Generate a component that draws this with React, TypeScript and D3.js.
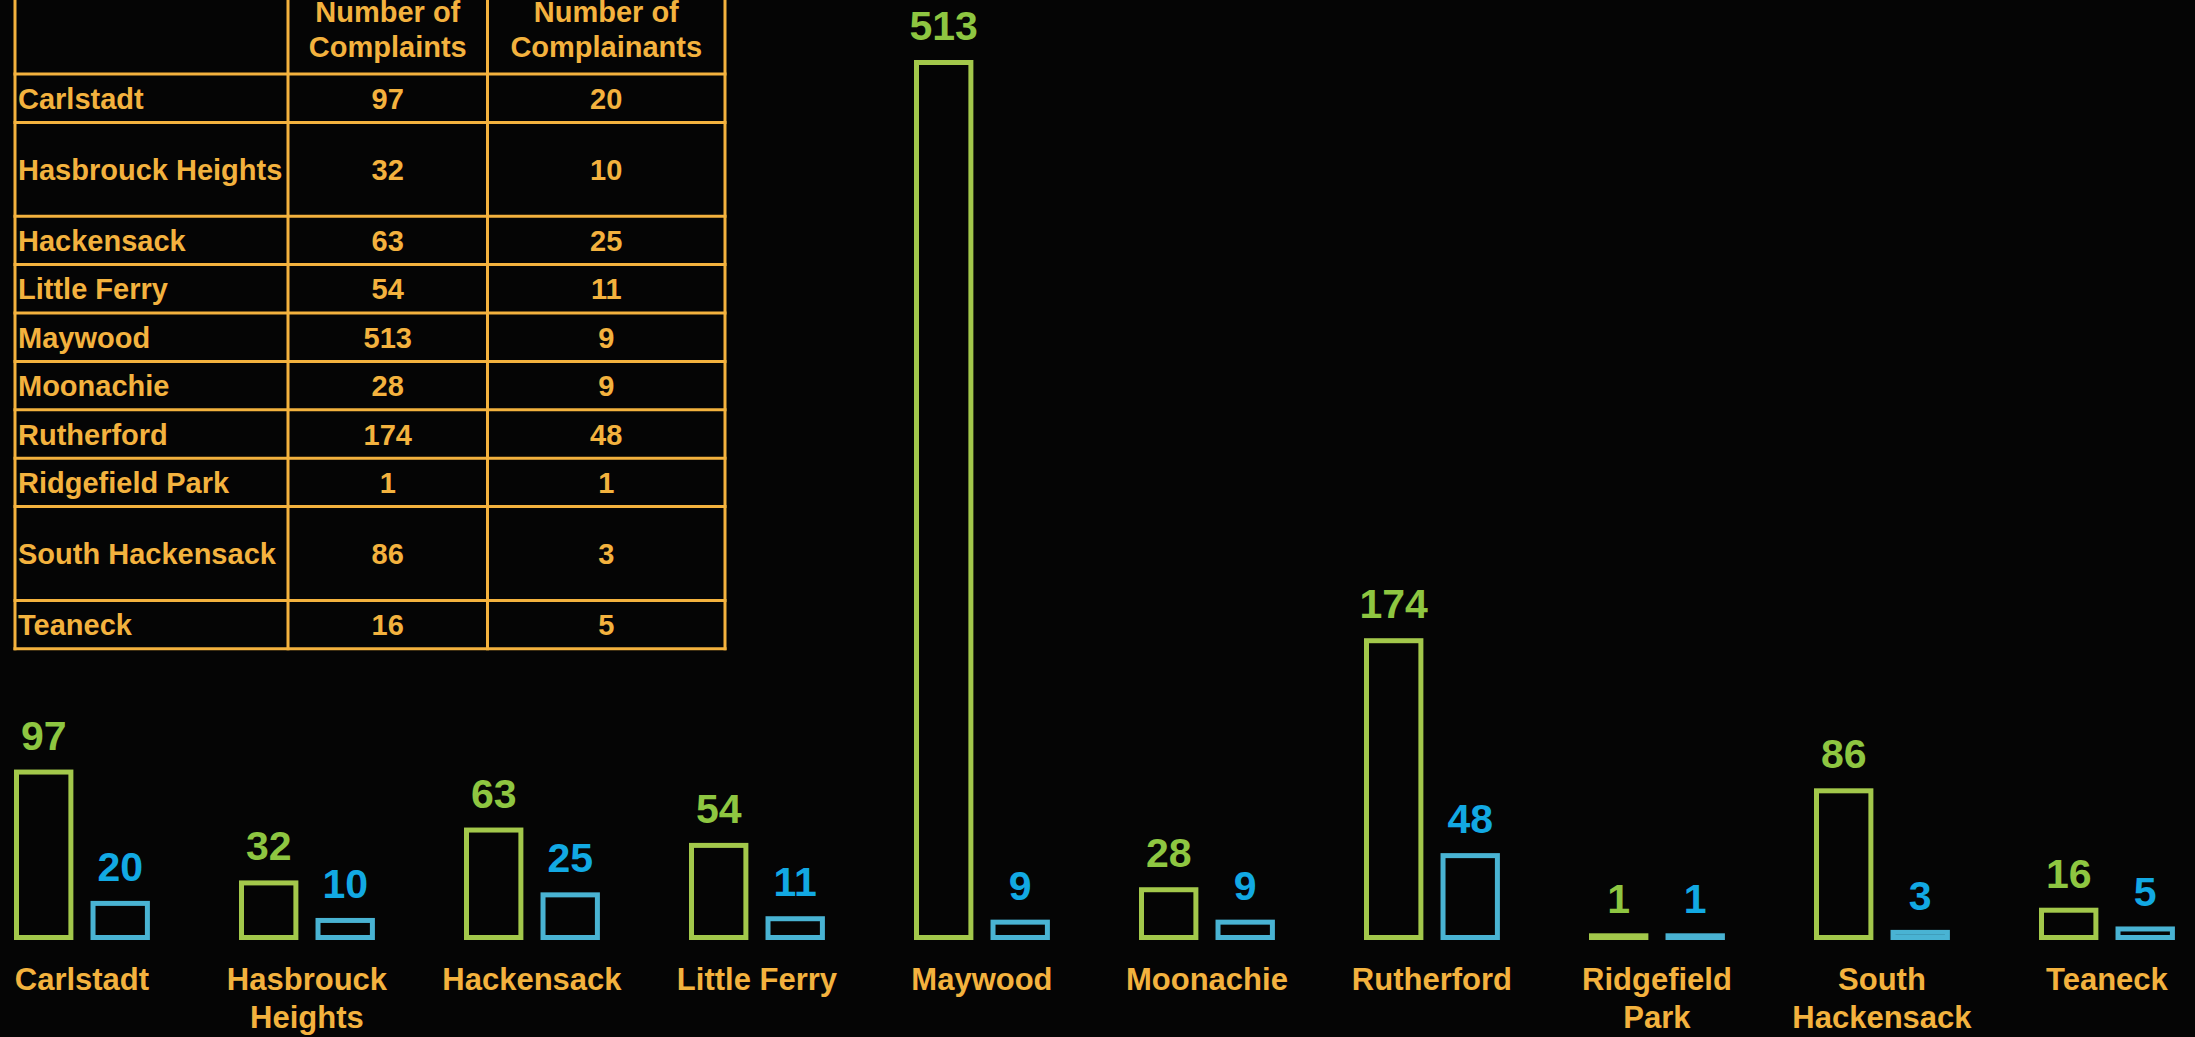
import React, { useEffect } from "react";
import * as d3 from "d3";

const towns = [
  "Carlstadt",
  "Hasbrouck Heights",
  "Hackensack",
  "Little Ferry",
  "Maywood",
  "Moonachie",
  "Rutherford",
  "Ridgefield Park",
  "South Hackensack",
  "Teaneck",
];
const complaints = [97, 32, 63, 54, 513, 28, 174, 1, 86, 16];
const complainants = [20, 10, 25, 11, 9, 9, 48, 1, 3, 5];
const axisLabels = [
  ["Carlstadt"],
  ["Hasbrouck", "Heights"],
  ["Hackensack"],
  ["Little Ferry"],
  ["Maywood"],
  ["Moonachie"],
  ["Rutherford"],
  ["Ridgefield", "Park"],
  ["South", "Hackensack"],
  ["Teaneck"],
];
const tableHeaders = [["Number of", "Complaints"], ["Number of", "Complainants"]];
const tableRowUnits = [1, 2, 1, 1, 1, 1, 1, 1, 2, 1];

const W = 2195;
const H = 1037;
const ORANGE = "#f3b23e";
const GREEN_BAR = "#a3c84b";
const BLUE_BAR = "#49b3d3";
const GREEN_TXT = "#8ec641";
const BLUE_TXT = "#12a9e3";
const FONT = "'Liberation Sans', Arial, sans-serif";

export default function App() {
  useEffect(() => {
    document.body.style.margin = "0";
    document.body.style.background = "#050505";
  }, []);

  const x = d3
    .scaleBand<string>()
    .domain(towns)
    .range([14, 14 + 225 * (10 - 0.396)])
    .paddingInner(0.396)
    .paddingOuter(0);
  const xi = d3
    .scaleBand<string>()
    .domain(["c", "p"])
    .range([0, x.bandwidth()])
    .paddingInner(0.224);
  const y = d3.scaleLinear().domain([0, 513]).range([937.5, 62.5]);
  const SW = 5;

  // table geometry
  const colX = [15, 288, 487.5, 725];
  const headerBottom = 74;
  const unitH = 48.4;
  const rowEdges: number[] = [headerBottom];
  tableRowUnits.forEach((u) => rowEdges.push(rowEdges[rowEdges.length - 1] + u * unitH - (u > 1 ? 3 : 0)));

  const bars: any[] = [];
  towns.forEach((t, i) => {
    const series = [
      { key: "c", v: complaints[i], stroke: GREEN_BAR, txt: GREEN_TXT },
      { key: "p", v: complainants[i], stroke: BLUE_BAR, txt: BLUE_TXT },
    ];
    series.forEach((s) => {
      const bx = (x(t) as number) + (xi(s.key) as number);
      const bw = xi.bandwidth();
      const yy = y(s.v);
      bars.push(
        <g key={t + s.key}>
          <rect
            x={bx + SW / 2}
            y={yy}
            width={bw - SW}
            height={y(0) - yy}
            fill="none"
            stroke={s.stroke}
            strokeWidth={SW}
          />
          <text
            x={bx + bw / 2}
            y={yy - SW / 2 - 20}
            textAnchor="middle"
            fill={s.txt}
            fontSize={41}
            fontWeight="bold"
            fontFamily={FONT}
          >
            {s.v}
          </text>
        </g>
      );
    });
  });

  return (
    <svg width={W} height={H} style={{ display: "block", background: "#050505" }}>
      <rect x={0} y={0} width={W} height={H} fill="#050505" />
      {/* table */}
      <g fontFamily={FONT} fontWeight="bold" fill={ORANGE} fontSize={29}>
        {tableHeaders.map((lines, c) => (
          <text key={"h" + c} x={(colX[c + 1] + colX[c + 2]) / 2} textAnchor="middle">
            <tspan x={(colX[c + 1] + colX[c + 2]) / 2} y={22}>
              {lines[0]}
            </tspan>
            <tspan x={(colX[c + 1] + colX[c + 2]) / 2} y={57}>
              {lines[1]}
            </tspan>
          </text>
        ))}
        {towns.map((t, i) => {
          const cy = (rowEdges[i] + rowEdges[i + 1]) / 2 + 10.5;
          return (
            <g key={"r" + t}>
              <text x={18} y={cy}>
                {t}
              </text>
              <text x={(colX[1] + colX[2]) / 2} y={cy} textAnchor="middle">
                {complaints[i]}
              </text>
              <text x={(colX[2] + colX[3]) / 2} y={cy} textAnchor="middle">
                {complainants[i]}
              </text>
            </g>
          );
        })}
      </g>
      <g stroke={ORANGE} strokeWidth={3} fill="none">
        {colX.map((cx, i) => (
          <line key={"v" + i} x1={cx} x2={cx} y1={-10} y2={rowEdges[rowEdges.length - 1] + 1.5} />
        ))}
        {rowEdges.map((ry, i) => (
          <line key={"hl" + i} x1={colX[0] - 1.5} x2={colX[3] + 1.5} y1={ry} y2={ry} />
        ))}
      </g>
      {/* bars */}
      {bars}
      {/* category labels */}
      <g fontFamily={FONT} fontWeight="bold" fill={ORANGE} fontSize={31} textAnchor="middle">
        {towns.map((t, i) => {
          const cx = (x(t) as number) + x.bandwidth() / 2;
          return (
            <text key={"l" + t} x={cx}>
              {axisLabels[i].map((ln, j) => (
                <tspan key={j} x={cx} y={990 + j * 38}>
                  {ln}
                </tspan>
              ))}
            </text>
          );
        })}
      </g>
    </svg>
  );
}
